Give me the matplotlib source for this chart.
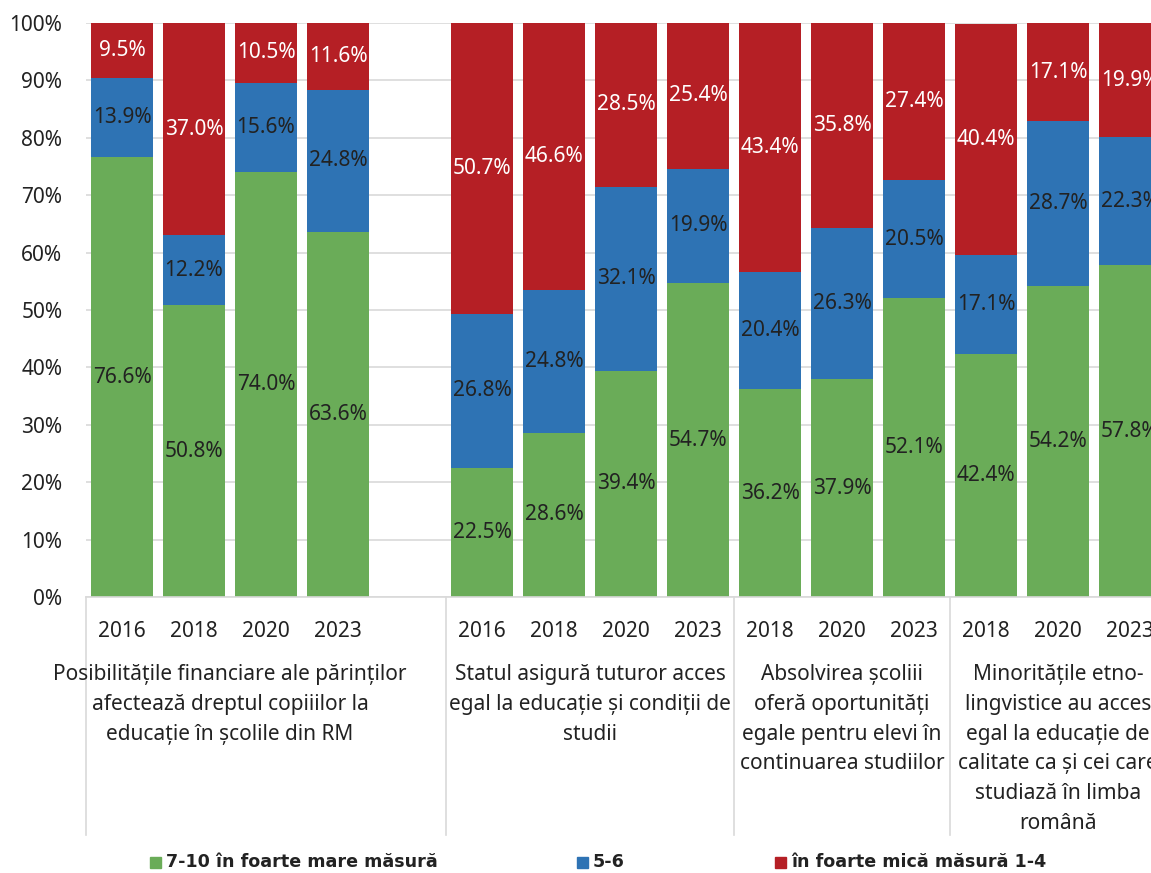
import matplotlib.pyplot as plt
from matplotlib.patches import Rectangle

plt.rcParams['font.family'] = ['Noto Sans', 'DejaVu Sans']

years = ['2016', '2018', '2020', '2023',
         '2016', '2018', '2020', '2023',
         '2018', '2020', '2023',
         '2018', '2020', '2023']
green = [76.6, 50.8, 74.0, 63.6, 22.5, 28.6, 39.4, 54.7, 36.2, 37.9, 52.1, 42.4, 54.2, 57.8]
blue = [13.9, 12.2, 15.6, 24.8, 26.8, 24.8, 32.1, 19.9, 20.4, 26.3, 20.5, 17.1, 28.7, 22.3]
red = [9.5, 37.0, 10.5, 11.6, 50.7, 46.6, 28.5, 25.4, 43.4, 35.8, 27.4, 40.4, 17.1, 19.9]

groups = ["Posibilitățile financiare ale părinților\nafectează dreptul copiiilor la\neducație în școlile din RM",
          "Statul asigură tuturor acces\negal la educație și condiții de\nstudii",
          "Absolvirea școliii\noferă oportunități\negale pentru elevi în\ncontinuarea studiilor",
          "Minoritățile etno-\nlingvistice au acces\negal la educație de\ncalitate ca și cei care\nstudiază în limba\nromână"]
group_sizes = [4, 4, 3, 3]
series_names = ['7-10 în foarte mare măsură', '5-6', 'în foarte mică măsură 1-4']
colors = ['#6aac58', '#2e73b4', '#b51f25']

# bar slots: one empty slot after the first group
x = list(range(0, 4)) + list(range(5, 15))

fig = plt.figure(figsize=(11.51, 8.73), dpi=100)
ax = fig.add_axes([86 / 1151, 1 - 597 / 873, 1 - 86 / 1151, 574 / 873])

w = 0.85
bottom2 = [g + b for g, b in zip(green, blue)]
ax.bar(x, green, w, color=colors[0], zorder=2)
ax.bar(x, blue, w, bottom=green, color=colors[1], zorder=2)
ax.bar(x, red, w, bottom=bottom2, color=colors[2], zorder=2)

fs = 15
for i, xi in enumerate(x):
    ax.text(xi, green[i] / 2, f'{green[i]:.1f}%', ha='center', va='center', fontsize=fs, color='#222222', zorder=3)
    ax.text(xi, green[i] + blue[i] / 2, f'{blue[i]:.1f}%', ha='center', va='center', fontsize=fs, color='#222222', zorder=3)
    ax.text(xi, bottom2[i] + red[i] / 2, f'{red[i]:.1f}%', ha='center', va='center', fontsize=fs, color='white', zorder=3)

ax.set_ylim(0, 100)
ax.set_xlim(-0.5, (1151 - 86) / 72 - 0.5)
ax.set_yticks(range(0, 101, 10))
ax.set_yticklabels([f'{v}%' for v in range(0, 101, 10)], fontsize=15, color='#222222')
ax.grid(axis='y', color='#d9d9d9', linewidth=1.2, zorder=0)
ax.set_xticks(x)
ax.set_xticklabels(years, fontsize=15, color='#222222')
ax.tick_params(axis='both', length=0)
ax.tick_params(axis='y', pad=17)
ax.tick_params(axis='x', pad=17)
for s in ['top', 'right', 'left']:
    ax.spines[s].set_visible(False)
ax.spines['bottom'].set_color('#d9d9d9')
ax.spines['bottom'].set_linewidth(1.2)

# group separators and group labels below the years
trans = ax.get_xaxis_transform()
idx = 0
for name, n in zip(groups, group_sizes):
    pos = x[idx:idx + n]
    left = pos[0] - 0.5
    ax.plot([left, left], [0, -238 / 574], transform=trans, color='#d9d9d9', lw=1.2, clip_on=False)
    center = (pos[0] + pos[-1]) / 2
    ax.text(center, -67 / 574, name, transform=trans, ha='center', va='top', fontsize=15,
            color='#222222', linespacing=1.55)
    idx += n

# legend along the bottom
leg_x = [150, 577, 775]
for lx, name, c in zip(leg_x, series_names, colors):
    fig.patches.append(Rectangle((lx / 1151, 1 - 868 / 873), 11 / 1151, 11 / 873,
                                 transform=fig.transFigure, color=c))
    fig.text((lx + 16) / 1151, 1 - 862 / 873, name, ha='left', va='center',
             fontsize=12.6, fontweight='bold', color='#222222',
             family=['DejaVu Sans'])

plt.savefig('out.png', dpi=100)
